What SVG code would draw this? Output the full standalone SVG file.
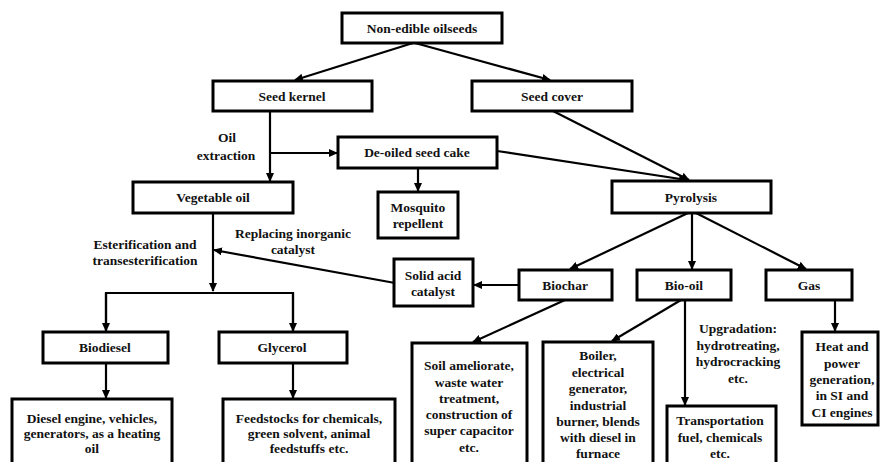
<svg xmlns="http://www.w3.org/2000/svg" width="881" height="462" viewBox="0 0 881 462">
  <style>
    .box { fill: #fff; stroke: #000; stroke-width: 3; }
    .t { font-family: "Liberation Serif", "Times New Roman", serif; font-weight: bold; font-size: 13.5px; fill: #111; text-anchor: middle; dominant-baseline: central; }
    .c { fill: none; stroke: #000; stroke-width: 2.2; }
    .a { marker-end: url(#arrow); }
  </style>
  <defs>
    <marker id="arrow" markerUnits="userSpaceOnUse" markerWidth="9" markerHeight="8" refX="8" refY="4" orient="auto">
      <path d="M0,0 L9,4 L0,8 z" fill="#000"/>
    </marker>
  </defs>
  <rect width="881" height="462" fill="#fff"/>

  <!-- connectors -->
  <g id="connectors">
    <line class="c a" x1="413" y1="43" x2="295" y2="80"/>
    <line class="c a" x1="415" y1="43" x2="550" y2="80"/>
    <line class="c a" x1="270" y1="111" x2="270" y2="181"/>
    <line class="c a" x1="270" y1="153" x2="337" y2="153"/>
    <line class="c a" x1="418" y1="168" x2="418" y2="191"/>
    <line class="c a" x1="497" y1="151" x2="687" y2="180"/>
    <line class="c a" x1="553" y1="111" x2="689" y2="180"/>
    <line class="c a" x1="213" y1="213" x2="213" y2="291"/>
    <polyline class="c" points="106,332 106,293 293,293 293,332"/>
    <line class="c a" x1="106" y1="293" x2="106" y2="331"/>
    <line class="c a" x1="293" y1="293" x2="293" y2="331"/>
    <line class="c a" x1="395" y1="283" x2="214" y2="250"/>
    <line class="c a" x1="688" y1="213" x2="570" y2="269"/>
    <line class="c a" x1="692" y1="213" x2="692" y2="269"/>
    <line class="c a" x1="696" y1="213" x2="806" y2="269"/>
    <line class="c a" x1="519" y1="285" x2="474" y2="285"/>
    <line class="c a" x1="106" y1="363" x2="106" y2="398"/>
    <line class="c a" x1="293" y1="363" x2="293" y2="398"/>
    <line class="c a" x1="565" y1="300" x2="473" y2="342"/>
    <line class="c a" x1="681" y1="300" x2="612" y2="341"/>
    <line class="c a" x1="685" y1="300" x2="685" y2="405"/>
    <line class="c a" x1="835" y1="300" x2="835" y2="331"/>
  </g>

  <!-- edge labels -->
  <g id="labels">
    <text class="t" x="227" y="137">Oil</text>
    <text class="t" x="226" y="155">extraction</text>
    <text class="t" x="145" y="244">Esterification and</text>
    <text class="t" x="145" y="260">transesterification</text>
    <text class="t" x="293" y="233">Replacing inorganic</text>
    <text class="t" x="293" y="249">catalyst</text>
    <text class="t" x="738" y="328">Upgradation:</text>
    <text class="t" x="738" y="345">hydrotreating,</text>
    <text class="t" x="738" y="361">hydrocracking</text>
    <text class="t" x="738" y="378">etc.</text>
  </g>

  <!-- nodes -->
  <g id="n-oilseeds">
    <rect class="box" x="342" y="13" width="160" height="30"/>
    <text class="t" x="422" y="28">Non-edible oilseeds</text>
  </g>
  <g id="n-kernel">
    <rect class="box" x="213" y="81" width="159" height="30"/>
    <text class="t" x="292" y="96">Seed kernel</text>
  </g>
  <g id="n-cover">
    <rect class="box" x="472" y="81" width="160" height="30"/>
    <text class="t" x="552" y="96">Seed cover</text>
  </g>
  <g id="n-cake">
    <rect class="box" x="338" y="137" width="159" height="31"/>
    <text class="t" x="417" y="152">De-oiled seed cake</text>
  </g>
  <g id="n-vegoil">
    <rect class="box" x="133" y="182" width="160" height="31"/>
    <text class="t" x="213" y="197">Vegetable oil</text>
  </g>
  <g id="n-mosquito">
    <rect class="box" x="378" y="192" width="80" height="46"/>
    <text class="t" x="418" y="207">Mosquito</text>
    <text class="t" x="418" y="223">repellent</text>
  </g>
  <g id="n-pyrolysis">
    <rect class="box" x="612" y="181" width="159" height="32"/>
    <text class="t" x="691" y="197">Pyrolysis</text>
  </g>
  <g id="n-solidacid">
    <rect class="box" x="394" y="259" width="79" height="47"/>
    <text class="t" x="433" y="275">Solid acid</text>
    <text class="t" x="433" y="291">catalyst</text>
  </g>
  <g id="n-biochar">
    <rect class="box" x="519" y="270" width="93" height="30"/>
    <text class="t" x="565" y="285">Biochar</text>
  </g>
  <g id="n-biooil">
    <rect class="box" x="637" y="270" width="94" height="30"/>
    <text class="t" x="684" y="285">Bio-oil</text>
  </g>
  <g id="n-gas">
    <rect class="box" x="766" y="270" width="86" height="30"/>
    <text class="t" x="809" y="285">Gas</text>
  </g>
  <g id="n-biodiesel">
    <rect class="box" x="43" y="332" width="125" height="31"/>
    <text class="t" x="105" y="347">Biodiesel</text>
  </g>
  <g id="n-glycerol">
    <rect class="box" x="219" y="332" width="128" height="31"/>
    <text class="t" x="282" y="347">Glycerol</text>
  </g>
  <g id="n-diesel-uses">
    <rect class="box" x="12" y="399" width="160" height="75"/>
    <text class="t" x="92" y="418">Diesel engine, vehicles,</text>
    <text class="t" x="92" y="433">generators, as a heating</text>
    <text class="t" x="92" y="448">oil</text>
  </g>
  <g id="n-glycerol-uses">
    <rect class="box" x="223" y="399" width="172" height="75"/>
    <text class="t" x="309" y="418">Feedstocks for chemicals,</text>
    <text class="t" x="309" y="433">green solvent, animal</text>
    <text class="t" x="309" y="448">feedstuffs etc.</text>
  </g>
  <g id="n-soil">
    <rect class="box" x="412" y="343" width="115" height="131"/>
    <text class="t" x="469" y="365">Soil ameliorate,</text>
    <text class="t" x="469" y="382">waste water</text>
    <text class="t" x="469" y="398">treatment,</text>
    <text class="t" x="469" y="414">construction of</text>
    <text class="t" x="469" y="430">super capacitor</text>
    <text class="t" x="469" y="447">etc.</text>
  </g>
  <g id="n-boiler">
    <rect class="box" x="543" y="342" width="110" height="132"/>
    <text class="t" x="598" y="355">Boiler,</text>
    <text class="t" x="598" y="372">electrical</text>
    <text class="t" x="598" y="388">generator,</text>
    <text class="t" x="598" y="405">industrial</text>
    <text class="t" x="598" y="421">burner, blends</text>
    <text class="t" x="598" y="437">with diesel in</text>
    <text class="t" x="598" y="453">furnace</text>
  </g>
  <g id="n-transport">
    <rect class="box" x="667" y="406" width="109" height="68"/>
    <text class="t" x="720" y="420">Transportation</text>
    <text class="t" x="720" y="437">fuel, chemicals</text>
    <text class="t" x="720" y="453">etc.</text>
  </g>
  <g id="n-heat">
    <rect class="box" x="802" y="332" width="76" height="93"/>
    <text class="t" x="842" y="346">Heat and</text>
    <text class="t" x="842" y="363">power</text>
    <text class="t" x="842" y="379">generation,</text>
    <text class="t" x="842" y="395">in SI and</text>
    <text class="t" x="842" y="412">CI engines</text>
  </g>
</svg>
